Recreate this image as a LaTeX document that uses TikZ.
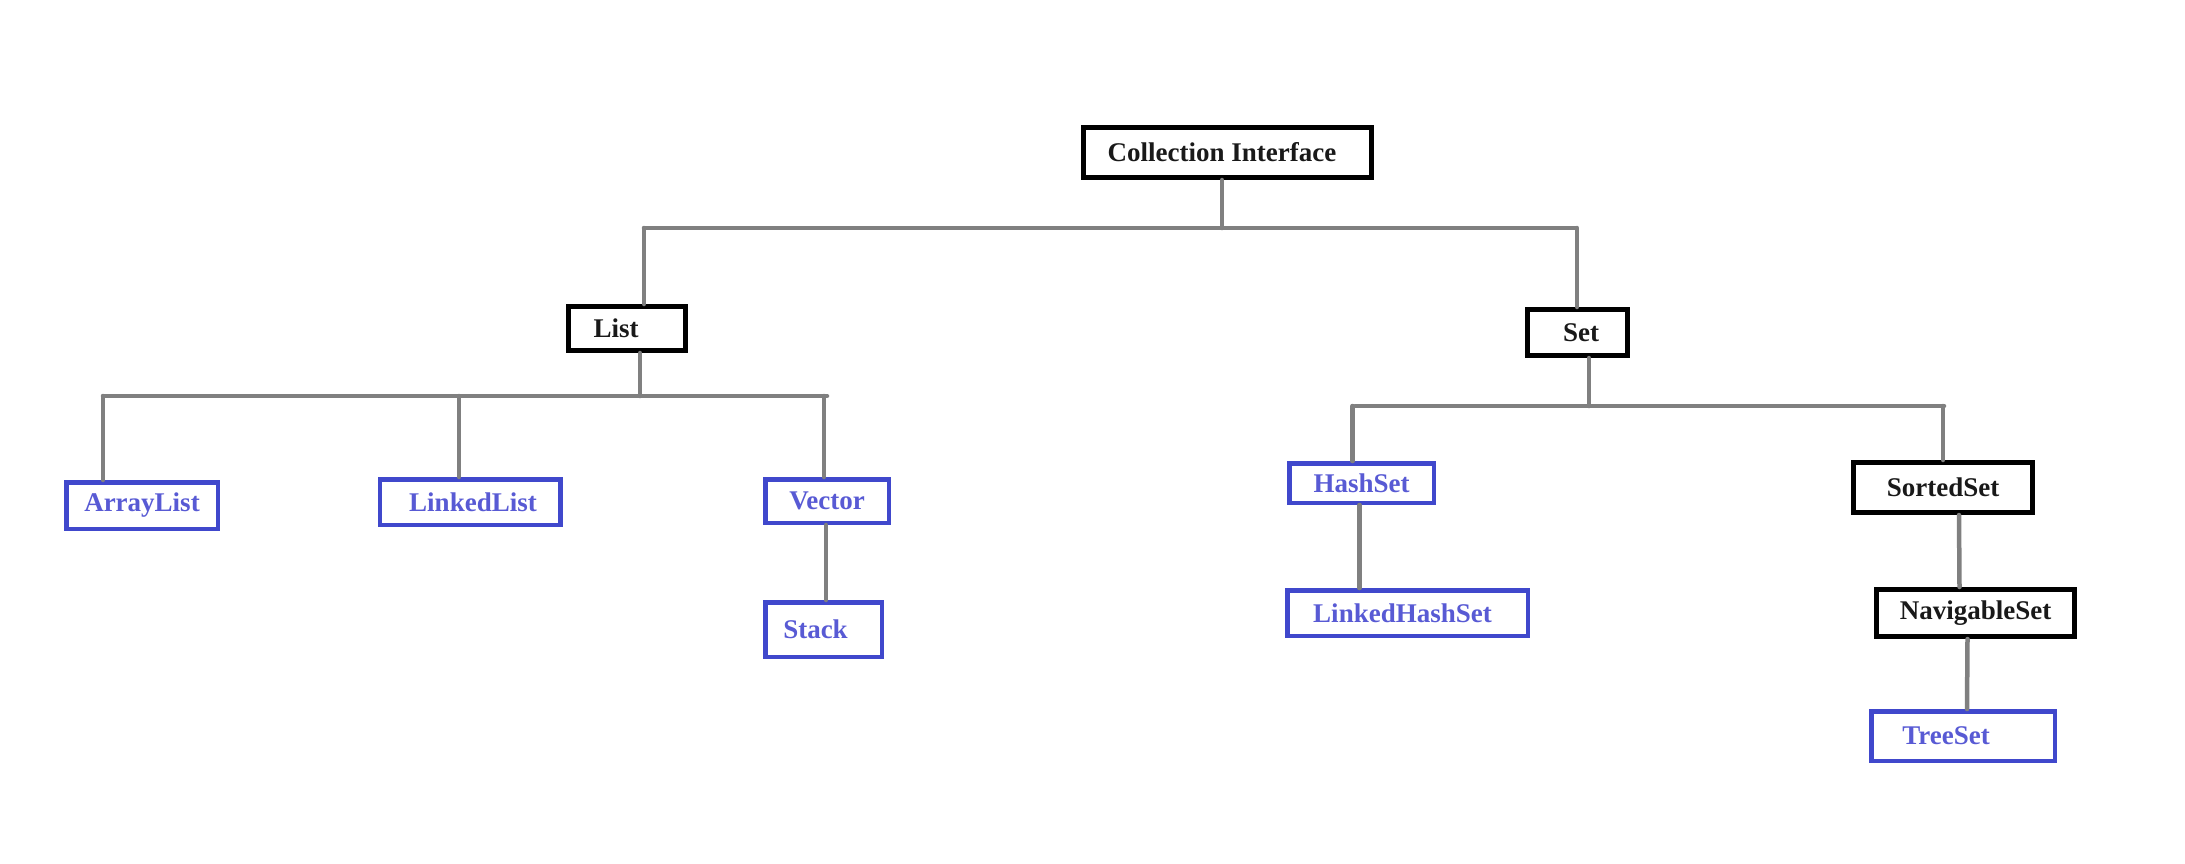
\documentclass[tikz,border=0pt]{standalone}
\usepackage{fontspec}
\setmainfont{Liberation Serif}
\usepackage{xcolor}
\usepackage{tikz}
\usetikzlibrary{positioning, calc}

\definecolor{boxblue}{RGB}{64,72,204}
\definecolor{textblue}{RGB}{88,90,212}
\definecolor{linkgray}{RGB}{128,128,128}
\definecolor{textblack}{RGB}{25,25,25}

\tikzset{
  iface/.style={draw=black, line width=5pt, inner sep=0pt, text=textblack,
    font=\bfseries\fontsize{27}{30}\selectfont},
  impl/.style={draw=boxblue, line width=4.5pt, inner sep=0pt, text=textblue,
    font=\bfseries\fontsize{27}{30}\selectfont},
  link/.style={draw=linkgray, line width=4.5pt, line cap=round}
}

\begin{document}
\begin{tikzpicture}[x=1pt, y=-1pt]
        \useasboundingbox (0,0) rectangle (2185,863);

        % Interfaces
        \node[iface, minimum width=288pt, minimum height=50pt] (coll) at (1227,152.5) {Collection Interface\hspace*{10pt}};
        \node[iface, minimum width=117pt, minimum height=44pt] (list) at (627,328.5) {List\hspace*{22pt}};
        \node[iface, minimum width=100pt, minimum height=46pt] (set) at (1577,332.5) {\hspace*{8pt}Set};
        \node[iface, minimum width=179pt, minimum height=50pt] (sorted) at (1943,487.5) {SortedSet};
        \node[iface, minimum width=198pt, minimum height=47pt] (nav) at (1975.5,613) {NavigableSet};

        % Classes
        \node[impl, minimum width=151.5pt, minimum height=46.5pt] (arraylist) at (142,505.5) {ArrayList};
        \node[impl, minimum width=180.5pt, minimum height=45.5pt] (linkedlist) at (470,502) {\hspace*{6pt}LinkedList};
        \node[impl, minimum width=123.5pt, minimum height=43.5pt] (vector) at (827,501) {Vector};
        \node[impl, minimum width=116.5pt, minimum height=54.5pt] (stack) at (823.5,629.5) {Stack\hspace*{16pt}};
        \node[impl, minimum width=144.5pt, minimum height=39.5pt] (hashset) at (1361.5,483) {HashSet};
        \node[impl, minimum width=240.5pt, minimum height=45.5pt] (lhs) at (1407.5,613) {LinkedHashSet\hspace*{10pt}};
        \node[impl, minimum width=183.5pt, minimum height=49.5pt] (tree) at (1963,736) {TreeSet\hspace*{34pt}};

        % Bus lines
        \coordinate (topL) at (644,228);
        \coordinate (topR) at (1575,228);
        \coordinate (listL) at (103,396);
        \coordinate (listR) at (827,396);
        \coordinate (setL) at (1355,406);
        \coordinate (setR) at (1944,406);

        \draw[link] (topL) -- (topR);
        \draw[link] (listL) -- (listR);
        \draw[link] (setL) -- (setR);

        % Collection Interface
        \draw[link] ([xshift=-5pt]coll.south) -- ([xshift=-5pt]coll.south |- topL);
        \draw[link] ([xshift=17pt]list.north) -- ([xshift=17pt]list.north |- topL);
        \draw[link] (set.north) -- (set.north |- topR);

        % List
        \draw[link] ([xshift=13pt]list.south) -- ([xshift=13pt]list.south |- listL);
        \draw[link] ([xshift=-39pt]arraylist.north) -- ([xshift=-39pt]arraylist.north |- listL);
        \draw[link] ([xshift=-11pt]linkedlist.north) -- ([xshift=-11pt]linkedlist.north |- listL);
        \draw[link] ([xshift=-3pt]vector.north) -- ([xshift=-3pt]vector.north |- listR);
        \draw[link] ([xshift=-1pt]vector.south) -- ([xshift=2.5pt]stack.north);

        % Set
        \draw[link] ([xshift=12pt]set.south) -- ([xshift=12pt]set.south |- setL);
        \draw[link] ([xshift=-9pt]hashset.north) -- ([xshift=-9pt]hashset.north |- setL);
        \draw[link] (sorted.north) -- (sorted.north |- setR);
        \draw[link] ([xshift=-2pt]hashset.south) -- ([xshift=-48pt]lhs.north);
        \draw[link] ([xshift=16pt]sorted.south) -- ([xshift=-16pt]nav.north);
        \draw[link] ([xshift=-8pt]nav.south) -- ([xshift=4pt]tree.north);

    \end{tikzpicture}
\end{document}
